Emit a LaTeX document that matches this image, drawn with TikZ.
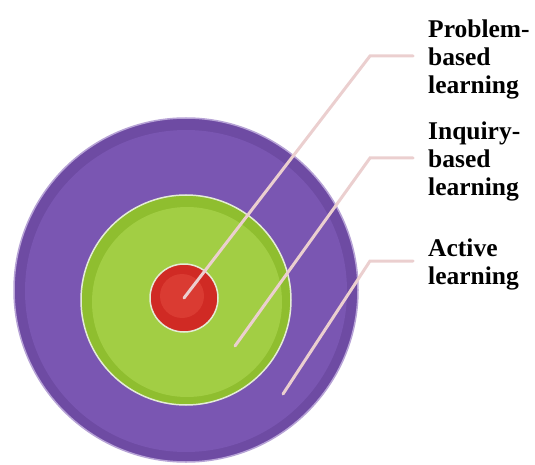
\documentclass[tikz,border=0pt]{standalone}
\usepackage{fontspec}
\setmainfont{Liberation Serif}
\usepackage{tikz}

\definecolor{purplerim}{HTML}{B7A3D6}
\definecolor{purpleout}{HTML}{6E4BA3}
\definecolor{purplein}{HTML}{7A56B2}
\definecolor{greenrim}{HTML}{E4ECD6}
\definecolor{greenout}{HTML}{8FBE2F}
\definecolor{greenin}{HTML}{A2CE44}
\definecolor{redout}{HTML}{D02A24}
\definecolor{redin}{HTML}{DA3B32}
\definecolor{leadercol}{HTML}{EBCFCF}

\tikzset{
    disc/.style={circle, inner sep=0pt},
    leader/.style={leadercol, line width=3pt, line cap=round, shorten >=15pt},
    label/.style={anchor=west, align=left, inner sep=0pt,
        font=\bfseries\fontsize{25.5}{28}\selectfont}
}

\begin{document}
\begin{tikzpicture}[x=1pt, y=-1pt]
    \useasboundingbox (0, 0) rectangle (535, 465);

    % Outer ring
    \node[disc, fill=purpleout, draw=purplerim, line width=1.5pt, minimum size=344pt] (active) at (186, 290) {};
    \node[disc, fill=purplein, minimum size=322pt] (activein) at (186, 291) {};

    % Middle ring
    \node[disc, fill=greenout, draw=greenrim, line width=1.5pt, minimum size=210pt] (inquiry) at (186, 300) {};
    \node[disc, fill=greenin, minimum size=190pt] (inquiryin) at (187, 302) {};

    % Centre
    \node[disc, fill=redout, draw=greenrim, line width=1.5pt, minimum size=68pt] (problem) at (184, 298) {};
    \node[disc, fill=redin, minimum size=44pt] (problemin) at (182, 296) {};

    % Labels
    \node[label] (pbl) at (428, 59) {Problem-\\based\\learning};
    \node[label] (ibl) at (428, 161) {Inquiry-\\based\\learning};
    \node[label] (al) at (428, 264) {Active\\learning};

    % Leaders
    \coordinate (pbl-knee) at (370, 56);
    \coordinate (ibl-tip) at (235, 346);
    \coordinate (ibl-knee) at (370, 158);
    \coordinate (al-tip) at (283, 394);
    \coordinate (al-knee) at (370, 261);
    \draw[leader] (problem.center) -- (pbl-knee) -- (pbl-knee -| pbl.west);
    \draw[leader] (ibl-tip) -- (ibl-knee) -- (ibl-knee -| ibl.west);
    \draw[leader] (al-tip) -- (al-knee) -- (al-knee -| al.west);
\end{tikzpicture}
\end{document}
